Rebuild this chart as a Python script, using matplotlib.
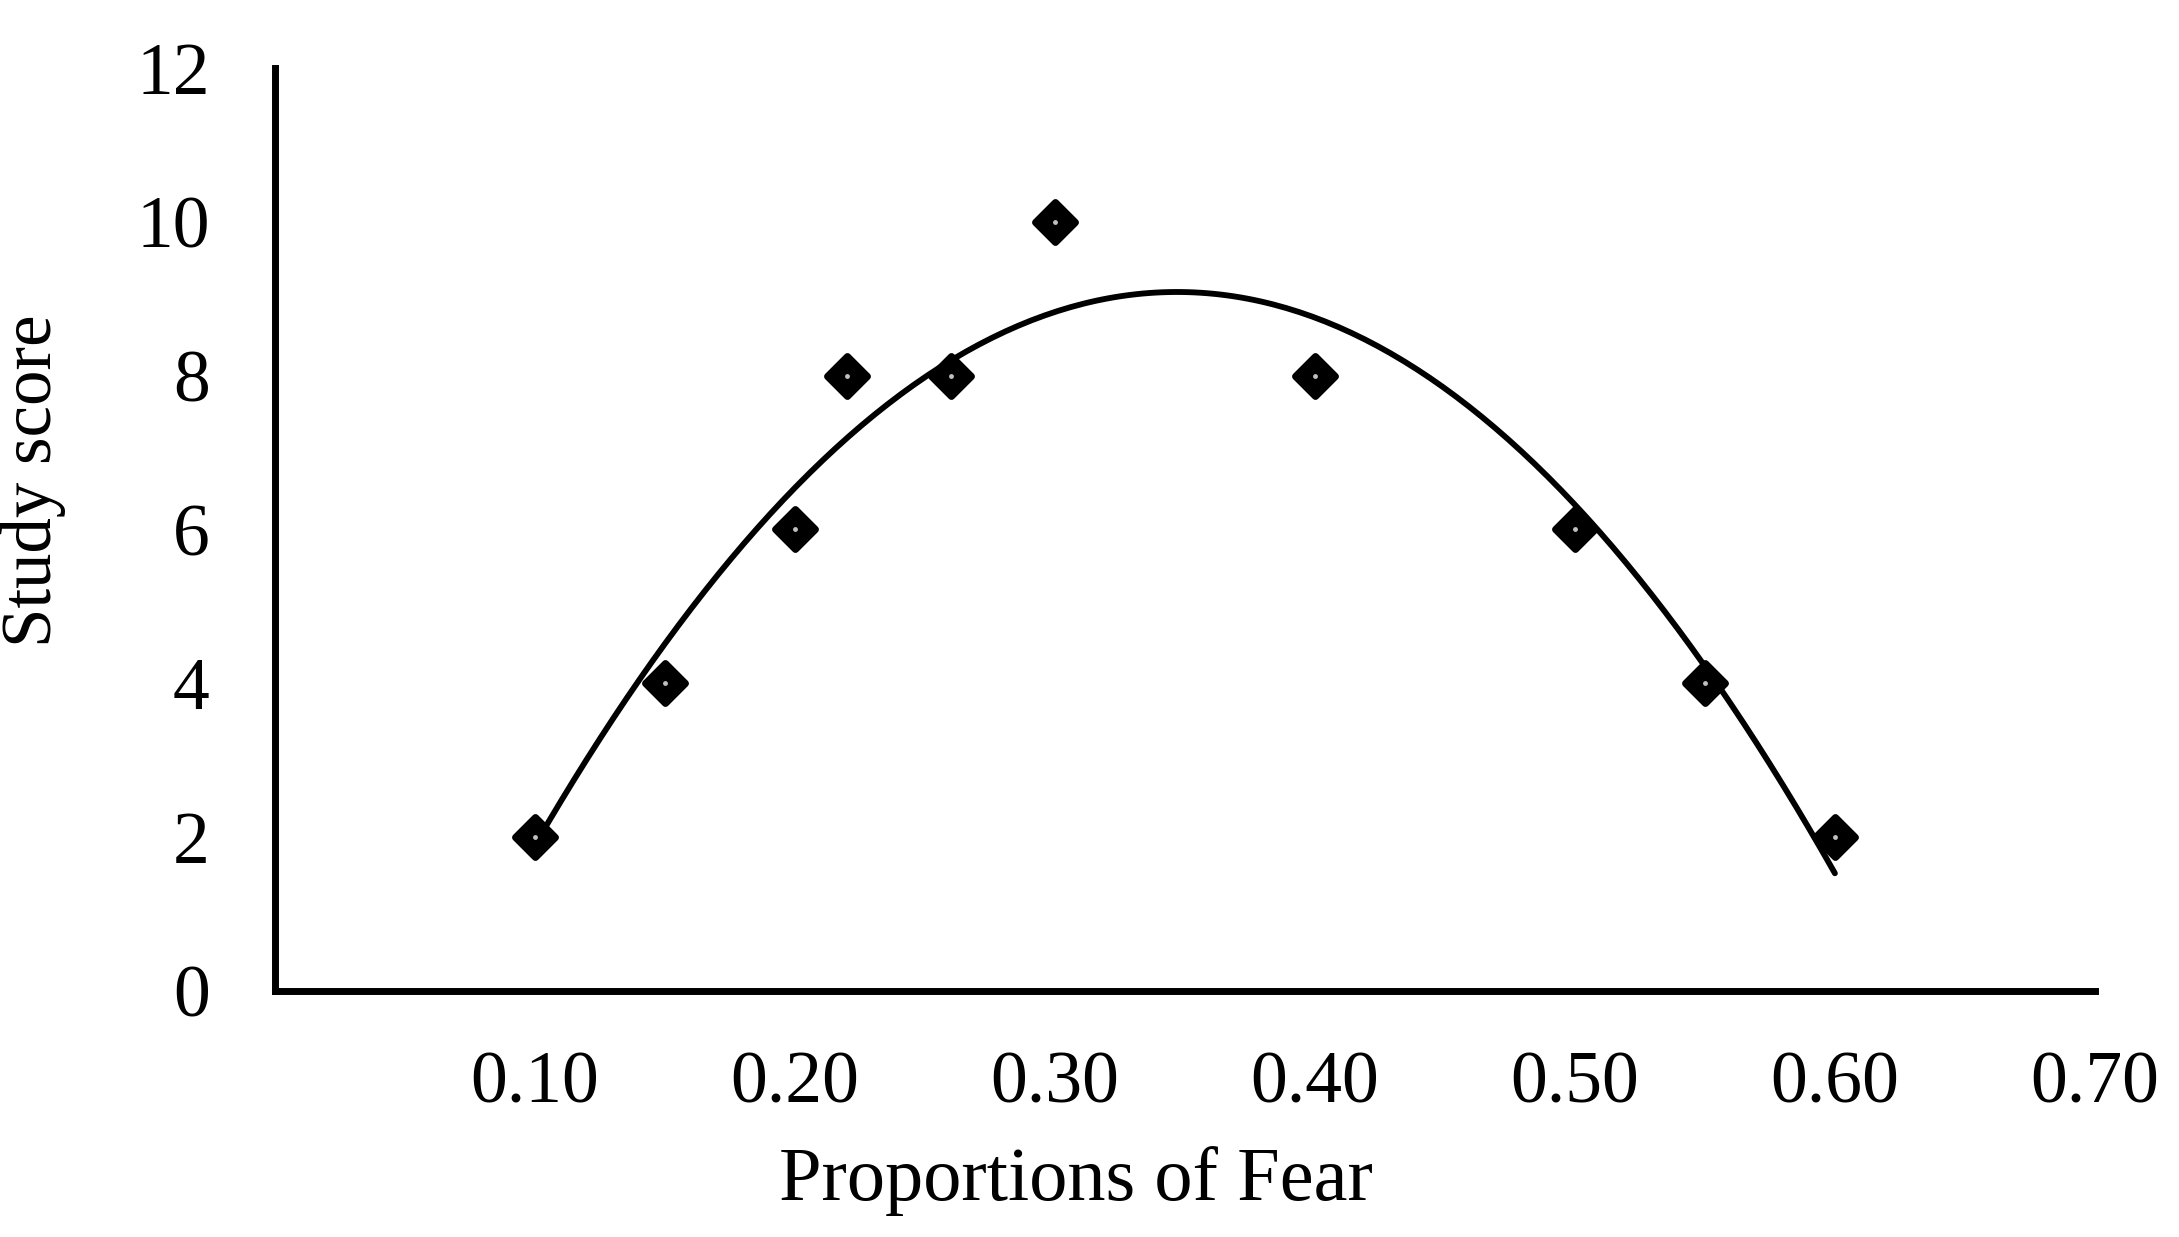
import numpy as np
import matplotlib
matplotlib.use('Agg')
import matplotlib.pyplot as plt
from matplotlib.markers import MarkerStyle

fear = [0.10, 0.15, 0.20, 0.22, 0.26, 0.30, 0.40, 0.50, 0.55, 0.60]
score = [2, 4, 6, 8, 8, 10, 8, 6, 4, 2]
xticks = [0.10, 0.20, 0.30, 0.40, 0.50, 0.60, 0.70]
yticks = [0, 2, 4, 6, 8, 10, 12]

plt.rcParams['font.family'] = ['Liberation Serif', 'DejaVu Serif']

fig = plt.figure(figsize=(21.79, 12.37), dpi=100)
ax = fig.add_axes([0.1262, 0.1989, 0.8352, 0.7461])

# polynomial trend line (order 2), like the spreadsheet one
coef = np.polyfit(fear, score, 2)
xs = np.linspace(min(fear), max(fear), 200)
ax.plot(xs, np.polyval(coef, xs), color='black', lw=4.2, solid_capstyle='round', zorder=2)

diamond = MarkerStyle('D', joinstyle='round')
ax.plot(fear, score, ls='none', marker=diamond, ms=20, mfc='black', mec='black', mew=5,
        zorder=3)
ax.plot(fear, score, ls='none', marker='o', ms=3.5, mfc='#c0c0c0', mec='none', zorder=4)

ax.set_xlim(0, 0.70)
ax.set_ylim(0, 12)
ax.set_xticks(xticks)
ax.set_xticklabels(['{:.2f}'.format(t) for t in xticks])
ax.set_yticks(yticks)
ax.tick_params(axis='both', length=0, labelsize=53)
ax.tick_params(axis='x', pad=43)
ax.tick_params(axis='y', pad=47)

for s in ['top', 'right']:
    ax.spines[s].set_visible(False)
for s in ['left', 'bottom']:
    ax.spines[s].set_linewidth(5)
    ax.spines[s].set_capstyle('projecting')

ax.set_xlabel('Proportions of Fear', fontsize=55)
ax.xaxis.set_label_coords(0.44, -0.168)
ax.set_ylabel('Study score', fontsize=51)
ax.yaxis.set_label_coords(-0.115, 0.553)

fig.savefig('out.png', dpi=100)
